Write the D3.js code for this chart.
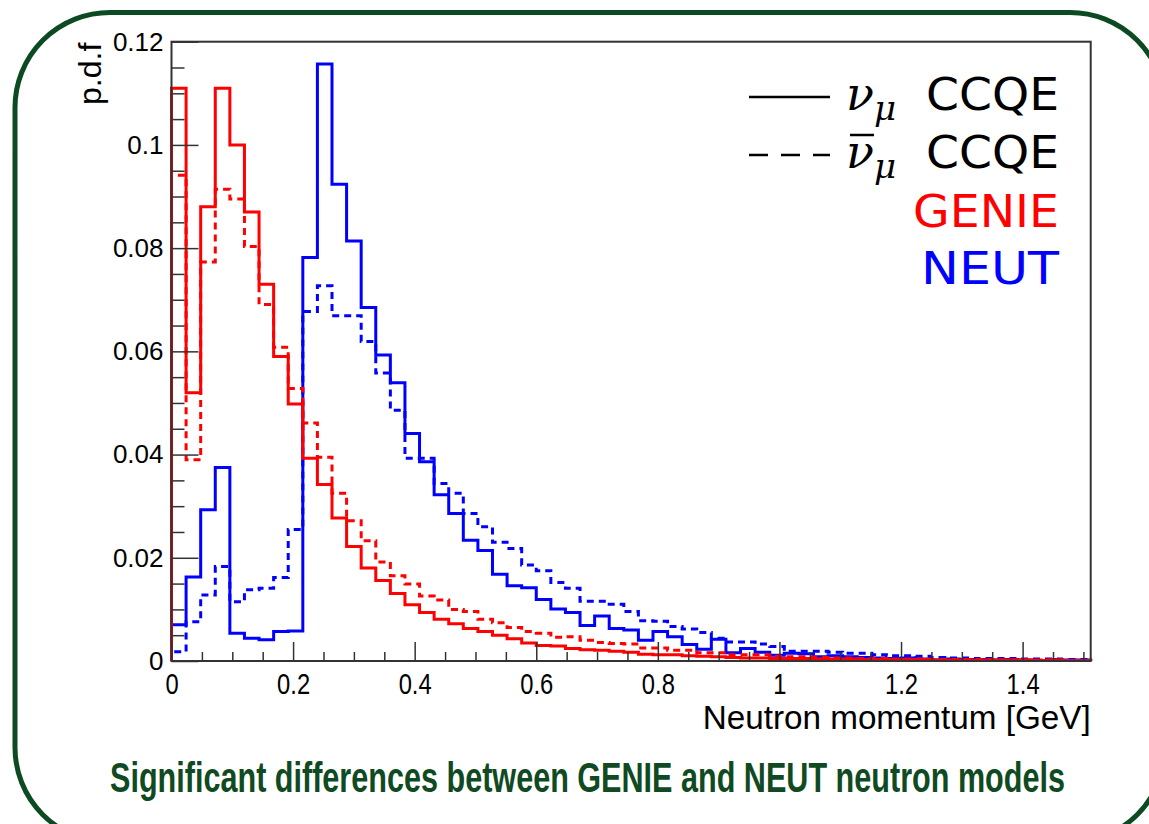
<!DOCTYPE html>
<html>
<head>
<meta charset="utf-8">
<script src="https://cdn.jsdelivr.net/npm/d3@7"></script>
<style>
  body { margin: 0; background: #fff; }
  svg { display: block; }
  .tick text { fill: #000; }
</style>
</head>
<body>
<div id="chart"></div>
<script>
// histogram binning: 63 bins of 0.024 GeV
const binWidth = 0.024;

// p.d.f values per bin
const genieNu = [0.111, 0.052, 0.088, 0.111, 0.100, 0.087, 0.073, 0.059, 0.0498, 0.0393,
  0.0342, 0.0277, 0.0222, 0.0180, 0.0156, 0.0131, 0.0109, 0.0094, 0.0081, 0.0072,
  0.0063, 0.0057, 0.0050, 0.0043, 0.0035, 0.0030, 0.0029, 0.0024, 0.0022, 0.0021,
  0.0019, 0.0017, 0.0013, 0.0012, 0.0012, 0.0010, 0.0009, 0.0008, 0.0007, 0.0006,
  0.0006, 0.0005, 0.0005, 0.0005, 0.0004, 0.0004, 0.0004, 0.0003, 0.0003, 0.0003,
  0.0003, 0.0003, 0.0002, 0.0002, 0.0002, 0.0002, 0.0002, 0.0002, 0.0002, 0.0001,
  0.0002, 0.0001, 0.0001];

const genieNubar = [0.0941, 0.039, 0.0773, 0.0914, 0.0895, 0.0803, 0.0691, 0.0608, 0.0528, 0.0461,
  0.0395, 0.0325, 0.0272, 0.0233, 0.0192, 0.0165, 0.0149, 0.0126, 0.0118, 0.0100,
  0.0096, 0.0081, 0.0074, 0.0065, 0.0057, 0.0054, 0.0046, 0.0047, 0.0040, 0.0036,
  0.0034, 0.0033, 0.0025, 0.0025, 0.0021, 0.0021, 0.0016, 0.0016, 0.0012, 0.0012,
  0.0012, 0.0009, 0.0008, 0.0008, 0.0007, 0.0006, 0.0006, 0.0005, 0.0005, 0.0004,
  0.0004, 0.0004, 0.0003, 0.0003, 0.0003, 0.0003, 0.0002, 0.0002, 0.0002, 0.0002,
  0.0002, 0.0001, 0.0001];

const neutNu = [0.0070, 0.0163, 0.0293, 0.0375, 0.0054, 0.0044, 0.0041, 0.0057, 0.0058, 0.0782,
  0.1157, 0.0924, 0.0814, 0.0685, 0.0593, 0.0539, 0.0441, 0.0386, 0.0322, 0.0286,
  0.0234, 0.0214, 0.0168, 0.0146, 0.0142, 0.0119, 0.0101, 0.0094, 0.0069, 0.0087,
  0.0063, 0.0060, 0.0040, 0.0057, 0.0047, 0.0032, 0.0023, 0.0042, 0.0016, 0.0024,
  0.0017, 0.0011, 0.0015, 0.0014, 0.0008, 0.0010, 0.0008, 0.0007, 0.0006, 0.0005,
  0.0006, 0.0004, 0.0002, 0.0004, 0.0003, 0.0003, 0.0002, 0.0003, 0.0002, 0.0001,
  0.0003, 0.0002, 0.0002];

const neutNubar = [0.0018, 0.0076, 0.0128, 0.0183, 0.0115, 0.0138, 0.0141, 0.0162, 0.0255, 0.0677,
  0.0727, 0.0669, 0.0669, 0.0619, 0.0558, 0.0486, 0.0393, 0.0393, 0.0344, 0.0325,
  0.0286, 0.0260, 0.0230, 0.0218, 0.0186, 0.0175, 0.0152, 0.0141, 0.0116, 0.0116,
  0.0110, 0.0096, 0.0078, 0.0077, 0.0067, 0.0062, 0.0055, 0.0044, 0.0037, 0.0037,
  0.0033, 0.0028, 0.0019, 0.0019, 0.0019, 0.0017, 0.0015, 0.0015, 0.0012, 0.0010,
  0.0010, 0.0009, 0.0007, 0.0006, 0.0006, 0.0005, 0.0005, 0.0005, 0.0004, 0.0004,
  0.0004, 0.0003, 0.0003];

// axis ticks
const xMajorTicks = [0, 0.2, 0.4, 0.6, 0.8, 1.0, 1.2, 1.4];
const yMajorTicks = [0, 0.02, 0.04, 0.06, 0.08, 0.1, 0.12];

const series = [
  {name: "NEUT nubar", values: neutNubar, color: "#0000ff", dashed: true},
  {name: "NEUT nu", values: neutNu, color: "#0000ff", dashed: false},
  {name: "GENIE nubar", values: genieNubar, color: "#ff0000", dashed: true},
  {name: "GENIE nu", values: genieNu, color: "#ff0000", dashed: false}
];

const W = 1149, H = 824;
const plot = {left: 171.5, top: 41.7, right: 1090.7, bottom: 661};
const nBins = genieNu.length;
const xMax = nBins * binWidth;

const svg = d3.select("#chart").append("svg")
  .attr("width", W).attr("height", H);

// rounded frame of the slide
svg.append("rect")
  .attr("x", 15).attr("y", 12.5)
  .attr("width", 1150).attr("height", 830)
  .attr("rx", 95).attr("ry", 95)
  .attr("fill", "#fff")
  .attr("stroke", "#0c4a21")
  .attr("stroke-width", 5);

const x = d3.scaleLinear().domain([0, xMax]).range([plot.left, plot.right]);
const y = d3.scaleLinear().domain([0, 0.12]).range([plot.bottom, plot.top]);

const fmt = d => d === 0 ? "0" : String(+d.toFixed(2));

// histograms as step outlines
const stepPath = vals => {
  const pts = [[x(0), y(0)]];
  vals.forEach((v, i) => {
    pts.push([x(i * binWidth), y(v)]);
    pts.push([x((i + 1) * binWidth), y(v)]);
  });
  pts.push([x(nBins * binWidth), y(0)]);
  return d3.line()(pts);
};

svg.append("g").selectAll("path")
  .data(series)
  .enter().append("path")
    .attr("d", d => stepPath(d.values))
    .attr("fill", "none")
    .attr("stroke", d => d.color)
    .attr("stroke-width", 3)
    .attr("stroke-dasharray", d => d.dashed ? "7,5" : null);

// frame
svg.append("rect")
  .attr("x", plot.left).attr("y", plot.top)
  .attr("width", plot.right - plot.left).attr("height", plot.bottom - plot.top)
  .attr("fill", "none").attr("stroke", "#333").attr("stroke-width", 2);

// x axis (ticks point inward)
const xMinor = d3.range(0, 1.5001, 0.05).filter(v => !xMajorTicks.some(t => Math.abs(t - v) < 1e-6));
svg.append("g")
  .attr("transform", `translate(0,${plot.bottom})`)
  .call(d3.axisBottom(x).tickValues(xMinor).tickSize(-9).tickFormat(""))
  .call(g => g.select(".domain").remove())
  .call(g => g.selectAll("line").attr("stroke", "#333").attr("stroke-width", 1.5));

const xAx = svg.append("g")
  .attr("transform", `translate(0,${plot.bottom})`)
  .call(d3.axisBottom(x).tickValues(xMajorTicks).tickSize(-19).tickPadding(12).tickFormat(fmt))
  .call(g => g.select(".domain").remove());
xAx.selectAll("line").attr("stroke", "#333").attr("stroke-width", 1.5);
xAx.selectAll("text")
  .attr("font-family", "Liberation Sans Narrow, Liberation Sans, Arial, sans-serif")
  .attr("font-size", 29)
  .attr("dy", "0.72em")
  .attr("transform", "scale(0.82,1)");

// y axis
const yMinor = d3.range(0, 0.1201, 0.005).filter(v => !yMajorTicks.some(t => Math.abs(t - v) < 1e-6));
svg.append("g")
  .attr("transform", `translate(${plot.left},0)`)
  .call(d3.axisLeft(y).tickValues(yMinor).tickSize(-13).tickFormat(""))
  .call(g => g.select(".domain").remove())
  .call(g => g.selectAll("line").attr("stroke", "#333").attr("stroke-width", 1.5));

const yAx = svg.append("g")
  .attr("transform", `translate(${plot.left},0)`)
  .call(d3.axisLeft(y).tickValues(yMajorTicks).tickSize(-27).tickPadding(8).tickFormat(fmt))
  .call(g => g.select(".domain").remove());
yAx.selectAll("line").attr("stroke", "#333").attr("stroke-width", 1.5);
yAx.selectAll("text")
  .attr("font-family", "Liberation Sans, Arial, sans-serif")
  .attr("font-size", 26);

// axis titles
svg.append("text")
  .attr("transform", `translate(101,${plot.top + 1}) rotate(-90)`)
  .attr("text-anchor", "end")
  .attr("font-family", "Liberation Sans, Arial, sans-serif")
  .attr("font-size", 32)
  .text("p.d.f");

svg.append("text")
  .attr("x", plot.right).attr("y", 729)
  .attr("text-anchor", "end")
  .attr("font-family", "Liberation Sans, Arial, sans-serif")
  .attr("font-size", 33)
  .attr("textLength", 388)
  .attr("lengthAdjust", "spacingAndGlyphs")
  .text("Neutron momentum [GeV]");

// legend
const legendRows = [
  {sym: "ν", bar: false, text: "CCQE", len: 133, color: "#000", dash: null, y: 110},
  {sym: "ν", bar: true, text: "CCQE", len: 133, color: "#000", dash: "19,13", y: 168},
  {sym: null, text: "GENIE", len: 146, color: "#ff0000", y: 227},
  {sym: null, text: "NEUT", len: 138, color: "#0000ff", y: 284}
];
const leg = svg.append("g");
legendRows.forEach(r => {
  leg.append("text")
    .attr("x", 1059 - r.len).attr("y", r.y)
    .attr("font-family", "DejaVu Sans, sans-serif")
    .attr("font-size", 45)
    .attr("fill", r.color)
    .attr("textLength", r.len)
    .attr("lengthAdjust", "spacingAndGlyphs")
    .text(r.text);
  if (r.sym) {
    leg.append("line")
      .attr("x1", 749).attr("x2", 830)
      .attr("y1", r.y - 13).attr("y2", r.y - 13)
      .attr("stroke", "#000").attr("stroke-width", 2.5)
      .attr("stroke-dasharray", r.dash);
    const t = leg.append("text")
      .attr("x", 846).attr("y", r.y)
      .attr("font-family", "DejaVu Serif, Liberation Serif, serif")
      .attr("font-style", "italic")
      .attr("font-size", 46);
    t.append("tspan").text(r.sym);
    t.append("tspan").attr("dy", 10).attr("font-size", 34).text("μ");
    if (r.bar) {
      leg.append("line")
        .attr("x1", 850).attr("x2", 874)
        .attr("y1", r.y - 33).attr("y2", r.y - 33)
        .attr("stroke", "#000").attr("stroke-width", 2.5);
    }
  }
});

// caption: tall condensed bold, stretched vertically
svg.append("g")
  .attr("transform", "translate(110,792) scale(1,1.45)")
  .append("text")
    .attr("x", 0).attr("y", 0)
    .attr("font-family", "Liberation Sans Narrow, Liberation Sans, Arial, sans-serif")
    .attr("font-weight", "bold")
    .attr("font-size", 29)
    .attr("fill", "#0f4a22")
    .attr("textLength", 955)
    .attr("lengthAdjust", "spacingAndGlyphs")
    .text("Significant differences between GENIE and NEUT neutron models");
</script>
</body>
</html>
